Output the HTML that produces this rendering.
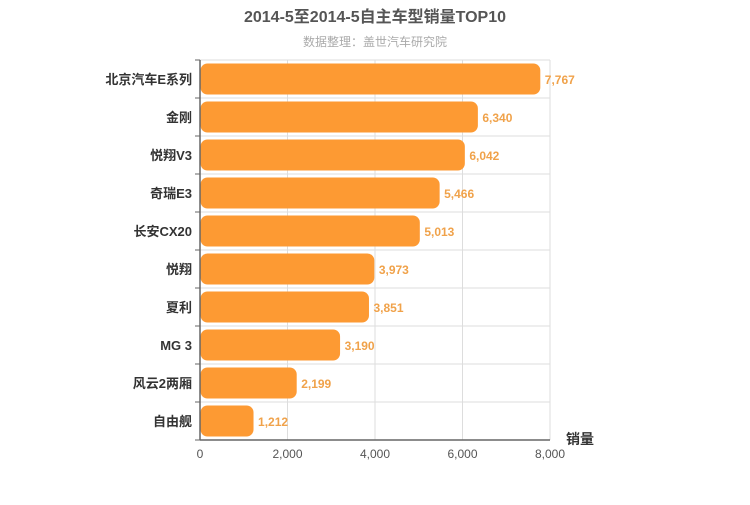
<!DOCTYPE html>
<html><head><meta charset="utf-8"><style>
body{margin:0;background:#fff;}
svg{font-family:"Liberation Sans","Noto Sans CJK SC",sans-serif;}
</style></head><body>
<svg id="c" width="750" height="500">
<text x="375" y="22" text-anchor="middle" font-size="16" font-weight="bold" fill="#555">2014-5至2014-5自主车型销量TOP10</text>
<text x="375" y="46" text-anchor="middle" font-size="12" fill="#aaa">数据整理：盖世汽车研究院</text>
<g id="g"></g>
</svg>
<script>
const categories=["北京汽车E系列","金刚","悦翔V3","奇瑞E3","长安CX20","悦翔","夏利","MG 3","风云2两厢","自由舰"];
const values=[7767,6340,6042,5466,5013,3973,3851,3190,2199,1212];
const ticks=[0,2000,4000,6000,8000];
const tickLabels=["0","2,000","4,000","6,000","8,000"];
const NS="http://www.w3.org/2000/svg";
const g=document.getElementById('g');
const L=200,R=550,T=60,B=440,max=8000;
const rowH=(B-T)/categories.length;
const xs=v=>L+(v/max)*(R-L);
function mk(t,a,p){const e=document.createElementNS(NS,t);for(const k in a)e.setAttribute(k,a[k]);(p||g).appendChild(e);return e;}
const fmt=v=>v.toLocaleString('en-US');
// grid
ticks.forEach((t,i)=>{
 if(i>0){const l=mk('line',{x1:xs(t),x2:xs(t),y1:T,y2:B,stroke:'#ddd'});
 
 }
 const tx=mk('text',{x:xs(t),y:B+18,'text-anchor':'middle','font-size':12,fill:'#555'});
 tx.textContent=tickLabels[i];
 
 
});
for(let i=0;i<categories.length;i++){
 const y=T+i*rowH;
 const l=mk('line',{x1:L,x2:R,y1:y,y2:y,stroke:'#ddd'});
 
 
 const tk=mk('line',{x1:L-5,x2:L,y1:y,y2:y,stroke:'#666'});
 
 
}
const bt=mk('line',{x1:L-5,x2:L,y1:B,y2:B,stroke:'#666'});


categories.forEach((c,i)=>{
 const cy=T+i*rowH+rowH/2;
 const r=mk('rect',{x:L+0.5,y:cy-15.5,width:xs(values[i])-L,height:31,rx:7,ry:7,fill:'#fd9a33'});
 
 
 const v=mk('text',{x:xs(values[i])+5,y:cy+5,'font-size':12,'font-weight':'bold',fill:'#f0a24a'});
 v.textContent=fmt(values[i]);
 
 
 const lb=mk('text',{x:L-8,y:cy+5,'text-anchor':'end','font-size':13,'font-weight':'bold',fill:'#333'});
 lb.textContent=c;
 
 
});
const ya=mk('line',{x1:L,x2:L,y1:T,y2:B,stroke:'#666','stroke-width':1.5});


const xa=mk('line',{x1:L,x2:R,y1:B,y2:B,stroke:'#666','stroke-width':1.5});


const at=mk('text',{x:580,y:444,'text-anchor':'middle','font-size':14,'font-weight':'bold',fill:'#333'});
at.textContent='销量';


</script>
</body></html>
